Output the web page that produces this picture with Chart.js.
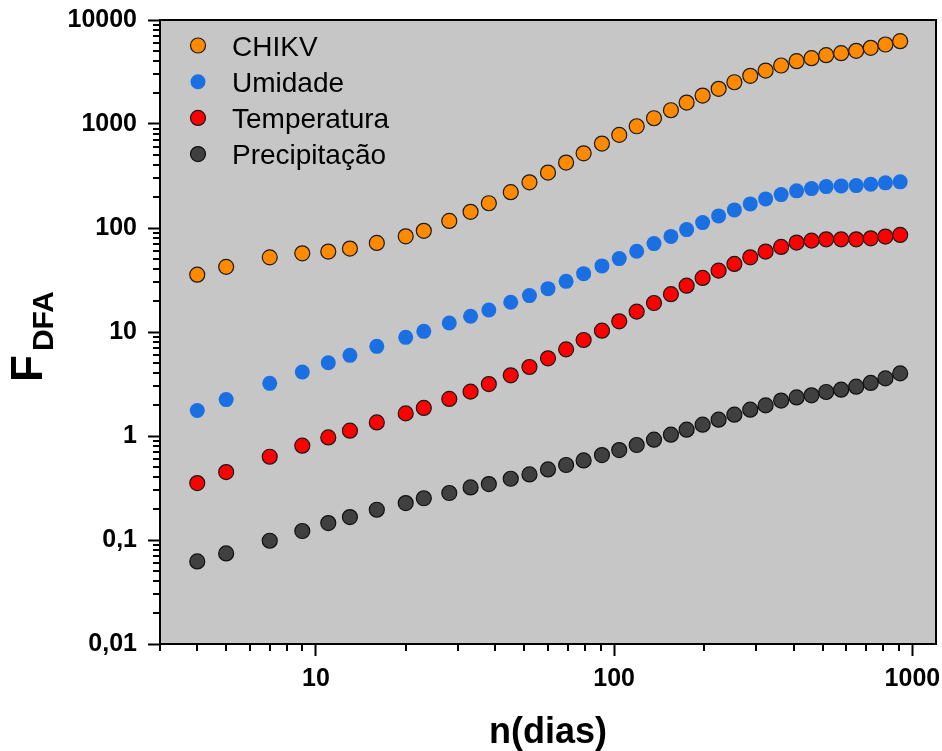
<!DOCTYPE html>
<html>
<head>
<meta charset="utf-8">
<script src="https://cdn.jsdelivr.net/npm/chart.js@4.4.1/dist/chart.umd.min.js"></script>
<style>
  html, body { margin: 0; padding: 0; background: #ffffff; }
  canvas { display: block; }
</style>
</head>
<body>
<canvas id="dfaChart" width="942" height="751"></canvas>
<script>
// janela n (dias)
const nDias = [4, 5, 7, 9, 11, 13, 16, 20, 23, 28, 33, 38, 45, 52, 60, 69, 79, 91, 104, 119,
    136, 155, 175, 198, 224, 253, 286, 322, 363, 409, 459, 514, 577, 648, 725, 812, 910];

const chikv = [35.6, 42.3, 52.2, 57.1, 59.3, 63.4, 71.9, 83.2, 94, 117, 143, 173, 221, 275, 341, 426,
    523, 648, 786, 951, 1136, 1356, 1608, 1878, 2178, 2521, 2906, 3267, 3650, 4016, 4291, 4586,
    4793, 5055, 5403, 5812, 6253];
const umidade = [1.76, 2.24, 3.21, 4.13, 5.07, 5.96, 7.28, 8.88, 10.15, 12.2, 14.15, 16.3, 19.3, 22.4,
    26.1, 30.7, 36.4, 43.2, 50.8, 59.7, 70.8, 83.0, 96.5, 112.7, 130.7, 149.3, 170.5, 190.5, 209.6,
    227.5, 239.3, 250.2, 254.1, 255.8, 263.3, 271.6, 277.7];
const temperatura = [0.353, 0.450, 0.632, 0.807, 0.969, 1.125, 1.35, 1.65, 1.86, 2.27, 2.67, 3.16,
    3.83, 4.61, 5.58, 6.81, 8.38, 10.3, 12.66, 15.7, 19.0, 23.1, 27.9, 33.1, 38.9, 45.1, 52.3, 59.3,
    65.8, 72.4, 75.6, 77.8, 77.8, 77.8, 79.6, 82.7, 85.8];
const precipitacao = [0.0622, 0.0743, 0.0984, 0.122, 0.1456, 0.1663, 0.1954, 0.2267, 0.252, 0.283,
    0.320, 0.345, 0.388, 0.427, 0.477, 0.526, 0.582, 0.656, 0.733, 0.819, 0.921, 1.029, 1.15, 1.284,
    1.435, 1.603, 1.79, 1.97, 2.19, 2.35, 2.46, 2.65, 2.79, 2.98, 3.24, 3.58, 4.00];

const seriesNames = ['CHIKV', 'Umidade', 'Temperatura', 'Precipitação'];

const xTicks = [10, 100, 1000];
const xTickLabels = ['10', '100', '1000'];
const yTicks = [0.01, 0.1, 1, 10, 100, 1000, 10000];
const yTickLabels = ['0,01', '0,1', '1', '10', '100', '1000', '10000'];

const FONT = "'Liberation Sans', Arial, sans-serif";

function toPoints(values) {
    return values.map((v, i) => ({ x: nDias[i], y: v }));
}

function minorValues(min, max) {
    const out = [];
    for (let d = -3; d <= 4; d++) {
        for (let m = 2; m <= 9; m++) {
            const v = m * Math.pow(10, d);
            if (v >= min * 0.999 && v <= max * 1.001) out.push(v);
        }
    }
    return out;
}

// no label padding, so the plot box sits where the reference has it
function noPadding(scale) {
    scale.paddingTop = 0;
    scale.paddingBottom = 0;
    scale.paddingLeft = 0;
    scale.paddingRight = 0;
}

// fundo cinza, ticks menores, moldura, legenda e títulos
const originLook = {
    id: 'originLook',
    beforeDatasetsDraw(chart) {
        const { ctx, chartArea: a } = chart;
        ctx.save();
        ctx.fillStyle = '#C6C6C6';
        ctx.fillRect(a.left, a.top, a.right - a.left, a.bottom - a.top);
        ctx.restore();
    },
    afterDatasetsDraw(chart) {
        const { ctx, chartArea: a, scales } = chart;
        ctx.save();

        // ticks menores
        ctx.strokeStyle = '#000';
        ctx.lineWidth = 2;
        ctx.beginPath();
        minorValues(scales.x.min, scales.x.max).forEach(v => {
            const px = Math.round(scales.x.getPixelForValue(v));
            ctx.moveTo(px, a.bottom);
            ctx.lineTo(px, a.bottom + 7);
        });
        minorValues(scales.y.min, scales.y.max).forEach(v => {
            const py = Math.round(scales.y.getPixelForValue(v));
            ctx.moveTo(a.left, py);
            ctx.lineTo(a.left - 7, py);
        });
        ctx.stroke();

        // moldura
        ctx.lineWidth = 2;
        ctx.strokeRect(a.left, a.top, a.right - a.left, a.bottom - a.top);

        // legenda
        const lx = 198, ly = 45.5, step = 36.2;
        chart.data.datasets.forEach((ds, i) => {
            const cy = ly + i * step;
            ctx.beginPath();
            ctx.arc(lx, cy, 7.5, 0, Math.PI * 2);
            ctx.fillStyle = ds.backgroundColor;
            ctx.fill();
            if (ds.borderWidth > 0) {
                ctx.lineWidth = ds.borderWidth;
                ctx.strokeStyle = ds.borderColor;
                ctx.stroke();
            }
            ctx.fillStyle = '#000';
            ctx.font = '28px ' + FONT;
            ctx.textAlign = 'left';
            ctx.textBaseline = 'alphabetic';
            ctx.fillText(ds.label, 232, cy + 10);
        });

        // título eixo x
        ctx.fillStyle = '#000';
        ctx.font = 'bold 36px ' + FONT;
        ctx.textAlign = 'center';
        ctx.textBaseline = 'alphabetic';
        ctx.fillText('n(dias)', (a.left + a.right) / 2, 743);

        // título eixo y: F com subscrito DFA
        ctx.translate(42, 382);
        ctx.rotate(-Math.PI / 2);
        ctx.textAlign = 'left';
        ctx.font = 'bold 44px ' + FONT;
        ctx.fillText('F', 0, 0);
        const fw = ctx.measureText('F').width;
        ctx.font = 'bold 30px ' + FONT;
        ctx.fillText('DFA', fw + 4, 11);
        ctx.restore();
    }
};

const ctx = document.getElementById('dfaChart').getContext('2d');

new Chart(ctx, {
    type: 'scatter',
    data: {
        datasets: [
            {
                label: seriesNames[0],
                data: toPoints(chikv),
                backgroundColor: '#FF8A00',
                borderColor: '#1a1a1a',
                borderWidth: 1.2
            },
            {
                label: seriesNames[1],
                data: toPoints(umidade),
                backgroundColor: '#1A6FE2',
                borderColor: '#1A6FE2',
                borderWidth: 0
            },
            {
                label: seriesNames[2],
                data: toPoints(temperatura),
                backgroundColor: '#FF0000',
                borderColor: '#1a1a1a',
                borderWidth: 1.2
            },
            {
                label: seriesNames[3],
                data: toPoints(precipitacao),
                backgroundColor: '#404040',
                borderColor: '#111111',
                borderWidth: 1.2
            }
        ]
    },
    options: {
        responsive: false,
        animation: false,
        devicePixelRatio: 1,
        elements: { point: { radius: 7.5, hoverRadius: 7.5 } },
        layout: { autoPadding: false, padding: { top: 20, right: 6, bottom: 0, left: 0 } },
        plugins: {
            legend: { display: false },
            tooltip: { enabled: false }
        },
        scales: {
            x: {
                type: 'logarithmic',
                min: 3,
                max: 1200,
                afterBuildTicks: scale => { scale.ticks = xTicks.map(v => ({ value: v })); },
                afterFit: scale => { scale.height = 107; noPadding(scale); },
                border: { display: false },
                grid: {
                    drawOnChartArea: false,
                    drawTicks: true,
                    tickLength: 12,
                    tickWidth: 2,
                    tickColor: '#000'
                },
                ticks: {
                    color: '#000',
                    padding: 8,
                    maxRotation: 0,
                    autoSkip: false,
                    font: { family: FONT, size: 25, weight: 'bold' },
                    callback: value => {
                        const i = xTicks.indexOf(value);
                        return i >= 0 ? xTickLabels[i] : '';
                    }
                }
            },
            y: {
                type: 'logarithmic',
                min: 0.01,
                max: 10000,
                afterBuildTicks: scale => { scale.ticks = yTicks.map(v => ({ value: v })); },
                afterFit: scale => { scale.width = 160; noPadding(scale); },
                border: { display: false },
                grid: {
                    drawOnChartArea: false,
                    drawTicks: true,
                    tickLength: 12,
                    tickWidth: 2,
                    tickColor: '#000'
                },
                ticks: {
                    color: '#000',
                    padding: 11,
                    autoSkip: false,
                    font: { family: FONT, size: 25, weight: 'bold' },
                    callback: value => {
                        const i = yTicks.findIndex(t => Math.abs(t - value) / t < 1e-6);
                        return i >= 0 ? yTickLabels[i] : '';
                    }
                }
            }
        }
    },
    plugins: [originLook]
});
</script>
</body>
</html>
